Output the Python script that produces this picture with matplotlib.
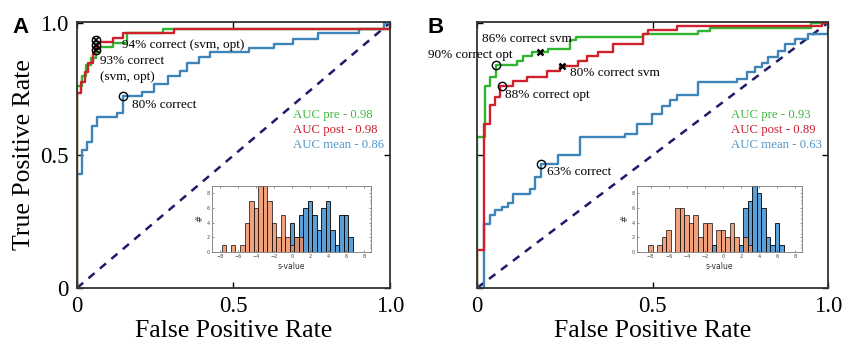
import numpy as np
import matplotlib
matplotlib.use("Agg")
import matplotlib.pyplot as plt

# ROC step curves, panel A  (fpr where the step happens, tpr after the step)
a_pre_fpr = [0, 0, 0.015, 0.03, 0.045, 0.06, 0.075, 0.116, 0.16, 0.275, 1.0]
a_pre_tpr = [0, 0.76, 0.80, 0.84, 0.866, 0.89, 0.908, 0.925, 0.961, 0.978, 1.0]
a_post_fpr = [0, 0, 0.012, 0.026, 0.036, 0.05, 0.057, 0.068, 0.116, 0.148, 0.31, 1.0]
a_post_tpr = [0, 0.734, 0.778, 0.816, 0.847, 0.881, 0.904, 0.929, 0.944, 0.961, 0.978, 1.0]
a_mean_fpr = [0, 0, 0.016, 0.032, 0.048, 0.064, 0.127, 0.146, 0.207, 0.245, 0.29,
              0.33, 0.35, 0.39, 0.425, 0.55, 0.63, 0.69, 0.77, 0.90, 0.98, 1.0]
a_mean_tpr = [0, 0.43, 0.52, 0.55, 0.61, 0.645, 0.66, 0.725, 0.74, 0.77, 0.80,
              0.82, 0.85, 0.87, 0.89, 0.905, 0.92, 0.94, 0.96, 0.975, 1.0, 1.0]

# panel B
b_pre_fpr = [0, 0, 0.023, 0.037, 0.054, 0.113, 0.132, 0.156, 0.203, 0.265, 0.282,
             0.474, 0.63, 0.664, 0.953, 1.0]
b_pre_tpr = [0, 0.569, 0.763, 0.795, 0.841, 0.857, 0.873, 0.888, 0.901, 0.936, 0.945,
             0.957, 0.97, 0.982, 1.0, 1.0]
b_post_fpr = [0, 0, 0.021, 0.037, 0.051, 0.066, 0.103, 0.141, 0.199, 0.236, 0.288,
              0.312, 0.346, 0.388, 0.474, 0.488, 0.569, 0.982, 1.0]
b_post_tpr = [0, 0.143, 0.62, 0.69, 0.72, 0.763, 0.78, 0.795, 0.82, 0.838, 0.857,
              0.873, 0.888, 0.92, 0.957, 0.972, 0.989, 1.0, 1.0]
b_mean_fpr = [0, 0.021, 0.021, 0.037, 0.051, 0.07, 0.089, 0.103, 0.151, 0.165, 0.182,
              0.232, 0.293, 0.422, 0.455, 0.498, 0.526, 0.55, 0.569, 0.63, 0.74, 0.768,
              0.792, 0.811, 0.83, 0.858, 0.877, 0.906, 0.944, 1.0]
b_mean_tpr = [0, 0, 0.243, 0.277, 0.293, 0.306, 0.322, 0.356, 0.375, 0.419, 0.469,
              0.5, 0.569, 0.581, 0.619, 0.657, 0.688, 0.707, 0.728, 0.776, 0.788, 0.813,
              0.832, 0.85, 0.87, 0.895, 0.92, 0.939, 0.957, 1.0]

# operating points
a_circ_x = [0.061, 0.061, 0.061, 0.146]
a_circ_y = [0.936, 0.917, 0.898, 0.725]
a_x_x = [0.061, 0.061, 0.061]
a_x_y = [0.936, 0.917, 0.898]
b_circ_x = [0.054, 0.07, 0.182]
b_circ_y = [0.841, 0.763, 0.469]
b_x_x = [0.18, 0.243]
b_x_y = [0.888, 0.838]

auc_a = [0.98, 0.98, 0.86]
auc_b = [0.93, 0.89, 0.63]

# s-value histograms (bin centres, width 0.5)
hA_or_c = np.arange(-7.5, 1.01, 0.5)
hA_or_h = [1, 0, 1, 0, 1, 4, 7, 6, 9, 9, 7, 4, 2, 5, 2, 1, 2, 2]
hA_bl_c = np.arange(0.0, 6.51, 0.5)
hA_bl_h = [4, 2, 5, 6, 7, 5, 3, 6, 7, 3, 1, 5, 5, 2]
hB_or_c = np.arange(-8.0, 3.01, 0.5)
hB_or_h = [1, 0, 1, 2, 3, 0, 6, 6, 5, 4, 5, 2, 4, 4, 0, 3, 3, 2, 4, 2, 0, 2, 1]
hB_bl_c = np.arange(-1.0, 6.51, 0.5)
hB_bl_h = [1, 0, 0, 0, 0, 0, 1, 6, 7, 9, 8, 6, 2, 1, 4, 1]

GREEN = "#2fb52f"
RED = "#d0202c"
BLUE = "#3d85b8"
NAVY = "#1c1c6a"
serif = "Liberation Serif"

fig = plt.figure(figsize=(8.5, 3.59), dpi=100)
axA = fig.add_axes([0.0906, 0.1978, 0.3682, 0.741])
axB = fig.add_axes([0.5612, 0.1978, 0.4129, 0.741])


def roc_axes(ax, pre, post, mean, auc, auc_x):
    ax.plot([0, 1], [0, 1], color=NAVY, lw=1.8, dashes=(3.2, 2.8))
    ax.plot(mean[0], mean[1], drawstyle="steps-post", color=BLUE, lw=1.7)
    ax.plot(pre[0], pre[1], drawstyle="steps-post", color=GREEN, lw=1.7)
    ax.plot(post[0], post[1], drawstyle="steps-post", color=RED, lw=1.7)
    ax.set_xlim(0, 1)
    ax.set_ylim(0, 1.003)
    ax.set_xticks([0, 0.5, 1.0])
    ax.set_xticklabels(["0", "0.5", "1.0"], fontsize=16.5, family=serif)
    ax.set_yticks([0, 0.5, 1.0])
    ax.tick_params(direction="in", length=4, width=1, top=True, right=True, pad=6)
    for s in ax.spines.values():
        s.set_linewidth(1.3)
        s.set_color("#333333")
    ax.set_xlabel("False Positive Rate", fontsize=18.5, family=serif, labelpad=2)
    labs = ["AUC pre - %.2f", "AUC post - %.2f", "AUC mean - %.2f"]
    cols = ["#3cb83c", "#c81e2d", "#5096c8"]
    ys = [0.652, 0.595, 0.538]
    for lab, c, y, v in zip(labs, cols, ys, auc):
        ax.text(auc_x, y, lab % v, color=c, fontsize=9.2, family=serif, va="center")


roc_axes(axA, (a_pre_fpr, a_pre_tpr), (a_post_fpr, a_post_tpr),
         (a_mean_fpr, a_mean_tpr), auc_a, 0.69)
axA.set_yticklabels(["0", "0.5", "1.0"], fontsize=16.5, family=serif)
axA.set_ylabel("True Positive Rate", fontsize=18.5, family=serif, labelpad=4)
axA.plot(a_circ_x, a_circ_y, "o", mfc="none", mec="black", ms=6, mew=1.0)
axA.plot(a_x_x, a_x_y, "x", color="black", ms=5, mew=1.2)
axA.text(0.145, 0.917, "94% correct (svm, opt)", fontsize=9.5, family=serif, va="center")
axA.text(0.073, 0.857, "93% correct", fontsize=9.5, family=serif, va="center")
axA.text(0.073, 0.795, "(svm, opt)", fontsize=9.5, family=serif, va="center")
axA.text(0.175, 0.69, "80% correct", fontsize=9.5, family=serif, va="center")

roc_axes(axB, (b_pre_fpr, b_pre_tpr), (b_post_fpr, b_post_tpr),
         (b_mean_fpr, b_mean_tpr), auc_b, 0.724)
axB.set_yticklabels([])
axB.plot(b_circ_x, b_circ_y, "o", mfc="none", mec="black", ms=6, mew=1.0)
axB.plot(b_x_x, b_x_y, "x", color="black", ms=5, mew=1.8)
axB.text(0.014, 0.94, "86% correct svm", fontsize=9.5, family=serif, va="center")
axB.text(-0.14, 0.88, "90% correct opt", fontsize=9.5, family=serif, va="center",
         clip_on=False)
axB.text(0.265, 0.812, "80% correct svm", fontsize=9.5, family=serif, va="center")
axB.text(0.08, 0.729, "88% correct opt", fontsize=9.5, family=serif, va="center")
axB.text(0.2, 0.437, "63% correct", fontsize=9.5, family=serif, va="center")

fig.text(0.015, 0.952, "A", fontsize=16, fontweight="bold", family="Liberation Sans", va="top")
fig.text(0.503, 0.952, "B", fontsize=16, fontweight="bold", family="Liberation Sans", va="top")


def inset(rect, oc, oh, bc, bh, xlim):
    ax = fig.add_axes(rect)
    ax.bar(bc, bh, width=0.5, color="#5aa0d8", edgecolor="black", lw=0.6)
    ax.bar(oc, oh, width=0.5, color="#ee8a5a", alpha=0.8, edgecolor="black", lw=0.6)
    ax.set_xlim(*xlim)
    ax.set_ylim(0, 9)
    ax.set_xticks(np.arange(-8, 9, 2))
    ax.set_yticks([0, 2, 4, 6, 8])
    ax.set_yticks(np.arange(0, 9, 0.5), minor=True)
    ax.tick_params(direction="in", length=1.5, width=0.4, labelsize=3.5, top=True,
                   right=True, pad=1.5, colors="#444444")
    ax.tick_params(which="minor", direction="in", length=1, width=0.3, right=True, left=False)
    for s in ax.spines.values():
        s.set_linewidth(0.6)
        s.set_color("#777777")
    ax.set_xlabel("s-value", fontsize=5.5, labelpad=2, color="#333333")
    ax.set_ylabel("#", fontsize=6, labelpad=2, color="#333333")
    return ax


inset([0.2494, 0.298, 0.187, 0.184], hA_or_c, hA_or_h, hA_bl_c, hA_bl_h, (-8.85, 8.75))
inset([0.7494, 0.298, 0.1941, 0.184], hB_or_c, hB_or_h, hB_bl_c, hB_bl_h, (-9.5, 8.75))

fig.savefig("out.png", dpi=100)
